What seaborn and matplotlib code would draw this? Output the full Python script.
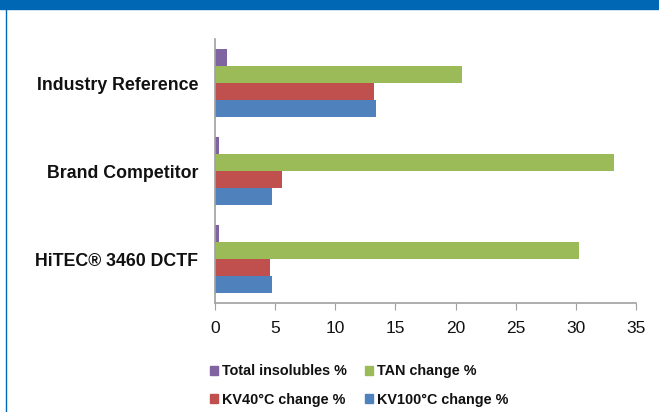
import matplotlib.pyplot as plt
import seaborn as sns
import pandas as pd
from matplotlib.lines import Line2D
from matplotlib.patches import Rectangle

# Chart values
products = ["Industry Reference", "Brand Competitor", "HiTEC® 3460 DCTF"]
series = ["Total insolubles %", "TAN change %", "KV40°C change %", "KV100°C change %"]
insolubles = [1.0, 0.3, 0.3]
tan_change = [20.5, 33.2, 30.3]
kv40_change = [13.2, 5.6, 4.6]
kv100_change = [13.4, 4.7, 4.7]
x_ticks = [0, 5, 10, 15, 20, 25, 30, 35]

colors = ["#8064A2", "#9BBB59", "#C0504D", "#4F81BD"]

rows = []
for name, vals in zip(series, [insolubles, tan_change, kv40_change, kv100_change]):
    for p, v in zip(products, vals):
        rows.append({"product": p, "series": name, "value": v})
df = pd.DataFrame(rows)

sns.set_style("white")
plt.rcParams['font.family'] = ['Liberation Sans', 'DejaVu Sans']

fig = plt.figure(figsize=(6.59, 4.12), dpi=100)
ax = fig.add_axes([215 / 659, 1 - 303 / 412, (636 - 215) / 659, (303 - 39) / 412])

sns.barplot(data=df, y="product", x="value", hue="series", order=products,
            hue_order=series, palette=colors, orient="h", width=0.78,
            saturation=1, linewidth=0, ax=ax, legend=False)

ax.set_xlim(0, 35)
ax.set_ylim(2.5, -0.5)
ax.set_xticks(x_ticks)
ax.set_xticklabels([str(t) for t in x_ticks], fontsize=12.5, color="#111111")
ax.set_yticks(range(len(products)))
ax.set_yticklabels(products, fontsize=12.8, fontweight="bold", color="#111111")
ax.set_yticks([0.5, 1.5, 2.5], minor=True)
ax.tick_params(axis="y", which="major", length=0, pad=12)
ax.tick_params(axis="y", which="minor", length=5, color="#A0A0A0", direction="out")
ax.tick_params(axis="x", length=5, color="#A0A0A0", direction="out", bottom=True, pad=8)
ax.set_xlabel("")
ax.set_ylabel("")
for s in ["top", "right"]:
    ax.spines[s].set_visible(False)
for s in ["left", "bottom"]:
    ax.spines[s].set_color("#A0A0A0")
    ax.spines[s].set_linewidth(1.2)

# Legend, two rows below the chart
handles = [Rectangle((0, 0), 1, 1, color=c) for c in colors]
order = [0, 2, 1, 3]
fig.legend([handles[i] for i in order], [series[i] for i in order],
           loc="center", bbox_to_anchor=(0.545, 0.064), ncol=2, frameon=False,
           prop={"weight": "bold", "size": 10.4}, labelcolor="#111111",
           handlelength=0.55, handleheight=0.55,
           handletextpad=0.3, columnspacing=1.2, labelspacing=1.0)

# Blue frame: banner on top, thin line on the left
fig.patches.append(Rectangle((0, 1 - 9 / 412), 1, 9 / 412, transform=fig.transFigure,
                             color="#0067B4", zorder=5))
fig.lines.append(Line2D([6 / 659, 6 / 659], [0, 1], transform=fig.transFigure,
                        color="#0067B4", linewidth=1))

fig.savefig("out.png", dpi=100)
